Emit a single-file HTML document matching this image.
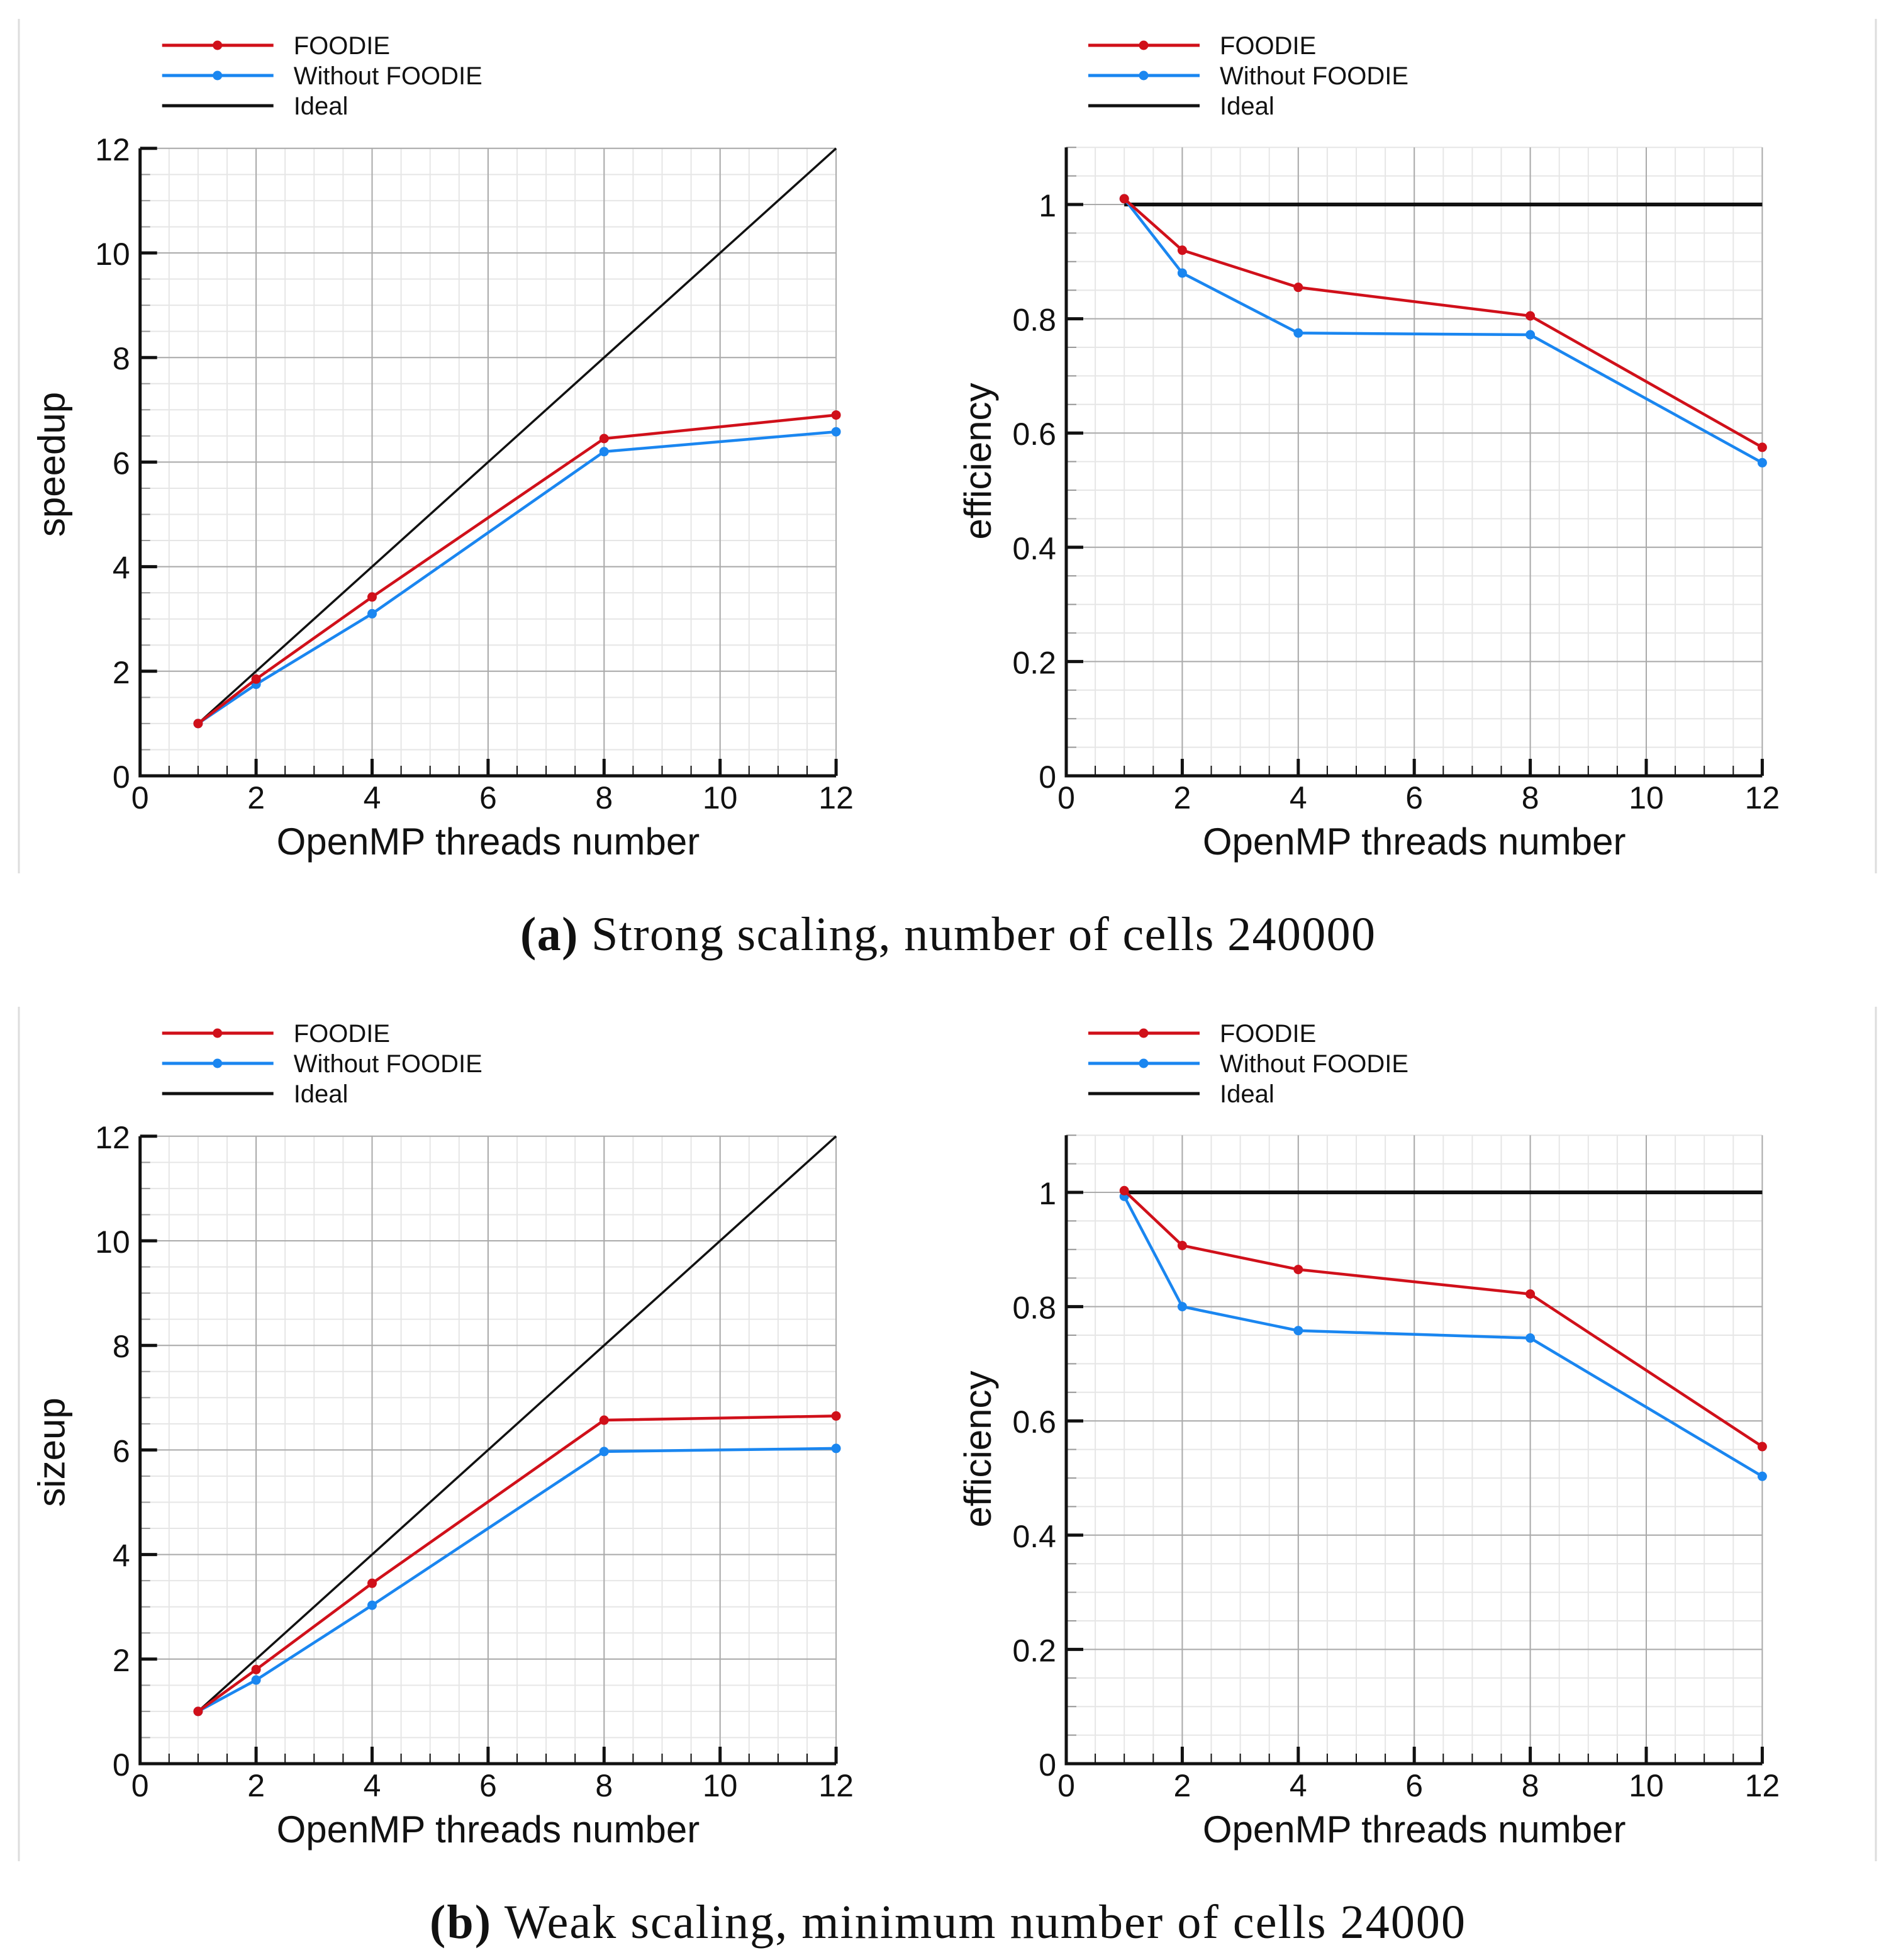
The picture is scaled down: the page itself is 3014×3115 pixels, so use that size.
<!DOCTYPE html>
<html><head><meta charset="utf-8"><style>
html,body{margin:0;padding:0;background:#fff;}
svg{display:block;}
text{font-family:"Liberation Sans",sans-serif;fill:#111;}
.cap{font-family:"Liberation Serif",serif;}
</style></head><body>
<svg id="fig" width="3014" height="3115" viewBox="0 0 3014 3115" xmlns="http://www.w3.org/2000/svg">
<line x1="30" y1="30" x2="30" y2="1388" stroke="#ddd" stroke-width="3"/>
<line x1="2982" y1="30" x2="2982" y2="1388" stroke="#ddd" stroke-width="3"/>
<line x1="30" y1="1600" x2="30" y2="2958" stroke="#ddd" stroke-width="3"/>
<line x1="2982" y1="1600" x2="2982" y2="2958" stroke="#ddd" stroke-width="3"/>
<text class="cap" x="827" y="1510" font-size="76" textLength="1359"><tspan font-weight="bold">(a)</tspan> Strong scaling, number of cells 240000</text>
<text class="cap" x="683" y="3080" font-size="76" textLength="1646"><tspan font-weight="bold">(b)</tspan> Weak scaling, minimum number of cells 24000</text>
</svg>
<script>
const threads = [1, 2, 4, 8, 12];
const strongSpeedupFoodie = [1, 1.85, 3.42, 6.45, 6.9];
const strongSpeedupWithout = [1, 1.75, 3.1, 6.2, 6.58];
const strongEffFoodie = [1.01, 0.92, 0.855, 0.805, 0.575];
const strongEffWithout = [1.01, 0.88, 0.775, 0.772, 0.548];
const weakSizeupFoodie = [1, 1.8, 3.45, 6.57, 6.65];
const weakSizeupWithout = [1, 1.6, 3.03, 5.97, 6.03];
const weakEffFoodie = [1.003, 0.907, 0.865, 0.822, 0.555];
const weakEffWithout = [0.993, 0.80, 0.758, 0.745, 0.503];
const xTicks = [0, 2, 4, 6, 8, 10, 12];
const ySpeedTicks = [0, 2, 4, 6, 8, 10, 12];
const yEffTicks = [0, 0.2, 0.4, 0.6, 0.8, 1];
const yEffLabels = ["0", "0.2", "0.4", "0.6", "0.8", "1"];
const legendLabels = ["FOODIE", "Without FOODIE", "Ideal"];

const NS = "http://www.w3.org/2000/svg";
const svg = document.getElementById("fig");
const RED = "#d0101a", BLUE = "#1a86f0";
function mk(tag, attrs, parent) {
  const e = document.createElementNS(NS, tag);
  for (const k in attrs) e.setAttribute(k, attrs[k]);
  (parent || svg).appendChild(e);
  return e;
}

function panel(opt) {
  const g = mk("g", {});
  
  
  const X0 = opt.ox, XU = 92.2, Y0 = opt.oy;
  const YU = opt.eff ? 908 : 83.1;
  const yMax = opt.eff ? 1.1 : 12;
  const sx = v => X0 + v * XU;
  const sy = v => Y0 - v * YU;
  const top = sy(yMax), right = sx(12);
  const mg = mk("g", {stroke: "#e6e6e6", "stroke-width": 2}, g);
  
  
  for (let v = 0.5; v < 12.01; v += 0.5) mk("line", {x1: sx(v), y1: Y0, x2: sx(v), y2: top}, mg);
  const ystep = opt.eff ? 0.05 : 0.5;
  for (let i = 1; i * ystep <= yMax + 1e-6; i++) mk("line", {x1: X0, y1: sy(i * ystep), x2: right, y2: sy(i * ystep)}, mg);
  const gg = mk("g", {stroke: "#aaa", "stroke-width": 2}, g);
  
  
  xTicks.forEach(v => { if (v > 0) mk("line", {x1: sx(v), y1: Y0, x2: sx(v), y2: top}, gg); });
  const yt = opt.eff ? yEffTicks : ySpeedTicks;
  yt.forEach(v => { if (v > 0) mk("line", {x1: X0, y1: sy(v), x2: right, y2: sy(v)}, gg); });
  const tk = mk("g", {stroke: "#111"}, g);
  
  
  for (let v = 0.5; v < 12.01; v += 0.5) {
    const major = Math.abs(v / 2 - Math.round(v / 2)) < 1e-6;
    mk("line", {x1: sx(v), y1: Y0, x2: sx(v), y2: Y0 - (major ? 27 : 16), "stroke-width": major ? 5 : 2}, tk);
  }
  for (let i = 1; i * ystep <= yMax + 1e-6; i++) {
    const v = i * ystep;
    const major = yt.some(t => Math.abs(t - v) < 1e-6);
    mk("line", {x1: X0, y1: sy(v), x2: X0 + (major ? 27 : 16), y2: sy(v), "stroke-width": major ? 5 : 2, stroke: major ? "#111" : "#999"}, tk);
  }
  const ax = mk("path", {d: `M${X0} ${top} L${X0} ${Y0} L${right} ${Y0}`, fill: "none", stroke: "#111", "stroke-width": 5}, g);
  
  
  xTicks.forEach(v => {
    const t = mk("text", {x: sx(v), y: Y0 + 52, "font-size": 50, "text-anchor": "middle"}, g);
    t.textContent = String(v);
    
    
  });
  yt.forEach((v, i) => {
    const t = mk("text", {x: X0 - 16, y: sy(v) + 19, "font-size": 50, "text-anchor": "end"}, g);
    t.textContent = opt.eff ? yEffLabels[i] : String(v);
    
    
  });
  const xt = mk("text", {x: sx(6), y: Y0 + 125, "font-size": 60, "text-anchor": "middle"}, g);
  xt.textContent = "OpenMP threads number";
  
  
  const tx = X0 - 120, ty = opt.eff ? Y0 - 500 : Y0 - 495;
  const ytl = mk("text", {x: tx, y: ty, "font-size": 60, "text-anchor": "middle", transform: `rotate(-90 ${tx} ${ty})`}, g);
  ytl.textContent = opt.ylabel;
  
  
  let idealPts;
  if (opt.eff) idealPts = `${sx(1)},${sy(1)} ${sx(12)},${sy(1)}`;
  else idealPts = `${sx(1)},${sy(1)} ${sx(12)},${sy(12)}`;
  const il = mk("polyline", {points: idealPts, fill: "none", stroke: "#111", "stroke-width": opt.eff ? 6 : 3.5}, g);
  
  
  [[opt.without, BLUE, "without-foodie-series"], [opt.foodie, RED, "foodie-series"]].forEach(([vals, col, nm]) => {
    const sg = mk("g", {}, g);
    
    
    const pts = threads.map((x, i) => `${sx(x)},${sy(vals[i])}`).join(" ");
    mk("polyline", {points: pts, fill: "none", stroke: col, "stroke-width": 4.5}, sg);
    threads.forEach((x, i) => {
      const c = mk("circle", {cx: sx(x), cy: sy(vals[i]), r: 7.5, fill: col}, sg);
      
      
    });
  });
  const lg = mk("g", {}, g);
  
  
  const lx = opt.ox + 35, ly0 = opt.oy - 1161;
  const cols = [RED, BLUE, "#111"];
  legendLabels.forEach((lab, i) => {
    const y = ly0 + i * 48;
    const e = mk("g", {}, lg);
    
    
    mk("line", {x1: lx, y1: y, x2: lx + 177, y2: y, stroke: cols[i], "stroke-width": 5}, e);
    if (i < 2) mk("circle", {cx: lx + 88, cy: y, r: 7.5, fill: cols[i]}, e);
    const t = mk("text", {x: lx + 209, y: y + 14, "font-size": 40}, e);
    t.textContent = lab;
  });
}

panel({name: "strong-speedup-chart", ox: 222.7, oy: 1233, eff: false, ylabel: "speedup", foodie: strongSpeedupFoodie, without: strongSpeedupWithout});
panel({name: "strong-efficiency-chart", ox: 1695, oy: 1233, eff: true, ylabel: "efficiency", foodie: strongEffFoodie, without: strongEffWithout});
panel({name: "weak-sizeup-chart", ox: 222.7, oy: 2803, eff: false, ylabel: "sizeup", foodie: weakSizeupFoodie, without: weakSizeupWithout});
panel({name: "weak-efficiency-chart", ox: 1695, oy: 2803, eff: true, ylabel: "efficiency", foodie: weakEffFoodie, without: weakEffWithout});
</script>
</body></html>
